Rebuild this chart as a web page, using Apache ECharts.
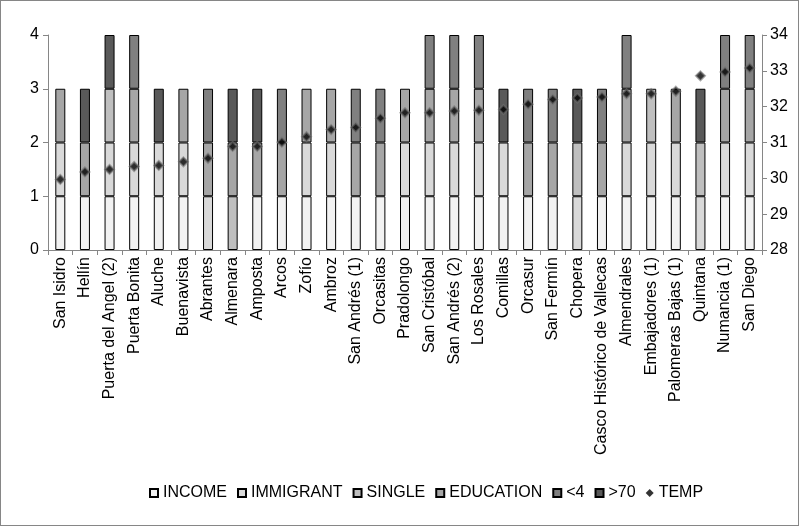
<!DOCTYPE html>
<html><head><meta charset="utf-8">
<script src="https://cdn.jsdelivr.net/npm/echarts@6/dist/echarts.min.js"></script>
<style>html,body{margin:0;padding:0;background:#fff}
#c{width:797px;height:524px;border:1px solid #868686}</style>
</head><body><div id="c"></div>
<script>
const categories = ['San Isidro','Hellín','Puerta del Angel (2)','Puerta Bonita','Aluche','Buenavista','Abrantes','Almenara','Amposta','Arcos','Zofío','Ambroz','San Andrés (1)','Orcasitas','Pradolongo','San Cristóbal','San Andrés (2)','Los Rosales','Comillas','Orcasur','San Fermín','Chopera','Casco Histórico de Vallecas','Almendrales','Embajadores (1)','Palomeras Bajas (1)','Quintana','Numancia (1)','San Diego'];
const income    = [1,1,1,1,1,1,0,0,1,1,1,1,1,1,1,1,1,1,1,1,1,0,1,1,1,1,0,1,1];
const immigrant = [1,0,1,1,1,1,1,0,0,0,1,1,0,0,1,1,1,1,1,0,0,1,0,1,1,1,1,1,1];
const single    = [0,0,1,0,0,0,0,1,0,0,0,0,0,0,0,0,0,0,0,0,0,1,0,0,1,0,1,0,0];
const education = [1,1,0,1,0,1,1,1,1,1,1,1,1,1,1,1,1,1,0,1,1,0,1,1,0,1,0,1,1];
const under4    = [0,0,0,1,0,0,1,0,0,1,0,0,1,1,0,1,1,1,0,1,1,0,1,1,0,0,0,1,1];
const over70    = [0,1,1,0,1,0,0,1,1,0,0,0,0,0,0,0,0,0,1,0,0,1,0,0,0,0,1,0,0];
const temp      = [29.97,30.18,30.25,30.33,30.36,30.46,30.56,30.89,30.89,31.01,31.16,31.36,31.42,31.68,31.83,31.83,31.88,31.90,31.92,32.07,32.20,32.24,32.27,32.36,32.36,32.43,32.86,32.97,33.08];
const leftTicks = [0,4,1];
const rightTicks = [28,34,1];

const FONT = 'Liberation Sans, Arial, sans-serif';
const barDefs = [
  ['INCOME', income, '#f2f2f2'],
  ['IMMIGRANT', immigrant, '#d9d9d9'],
  ['SINGLE', single, '#bfbfbf'],
  ['EDUCATION', education, '#a6a6a6'],
  ['<4', under4, '#808080'],
  ['>70', over70, '#595959']
];
const series = barDefs.map(([name, arr, col]) => ({
  name, type: 'bar', stack: 'all', barWidth: 10,
  data: arr.map(v => v ? v : '-'),
  itemStyle: {color: col, borderColor: '#000', borderWidth: 1},
  emphasis: {disabled: true}
}));
series.push({
  name: 'TEMP', type: 'scatter', yAxisIndex: 1, data: temp,
  symbol: 'diamond', symbolSize: 9,
  itemStyle: {color: '#000', borderColor: 'rgba(110,110,110,0.75)', borderWidth: 2},
  z: 5
});
const axisLine = {show: true, lineStyle: {color: '#868686', width: 1}};
const chart = echarts.init(document.getElementById('c'), null, {renderer: 'canvas'});
chart.setOption({
  animation: false,
  textStyle: {fontFamily: FONT},
  grid: {left: 47, right: 36, top: 34, bottom: 275},
  legend: {
    top: 479, left: 143, itemWidth: 8, itemHeight: 8, itemGap: 10,
    textStyle: {fontFamily: FONT, fontSize: 16, color: '#000'},
    data: [
      {name:'INCOME', icon:'rect'}, {name:'IMMIGRANT', icon:'rect'}, {name:'SINGLE', icon:'rect'},
      {name:'EDUCATION', icon:'rect'}, {name:'<4', icon:'rect'}, {name:'>70', icon:'rect'},
      {name:'TEMP', icon:'diamond', itemStyle: {borderWidth: 0}}
    ]
  },
  xAxis: {
    type: 'category', data: categories,
    axisLine, axisTick: {show: true, length: 5, lineStyle: {color: '#868686'}},
    axisLabel: {rotate: 90, interval: 0, fontSize: 16, color: '#000', margin: 7, fontFamily: FONT}
  },
  yAxis: [
    {type: 'value', min: leftTicks[0], max: leftTicks[1], interval: leftTicks[2],
     axisLine, axisTick: {show: true, length: 5, lineStyle: {color: '#868686'}},
     splitLine: {show: false},
     axisLabel: {fontSize: 16, color: '#000', margin: 9, fontFamily: FONT}},
    {type: 'value', min: rightTicks[0], max: rightTicks[1], interval: rightTicks[2], position: 'right',
     axisLine, axisTick: {show: true, length: 5, lineStyle: {color: '#868686'}},
     splitLine: {show: false},
     axisLabel: {fontSize: 16, color: '#000', margin: 8, fontFamily: FONT}}
  ],
  series
});
</script></body></html>
